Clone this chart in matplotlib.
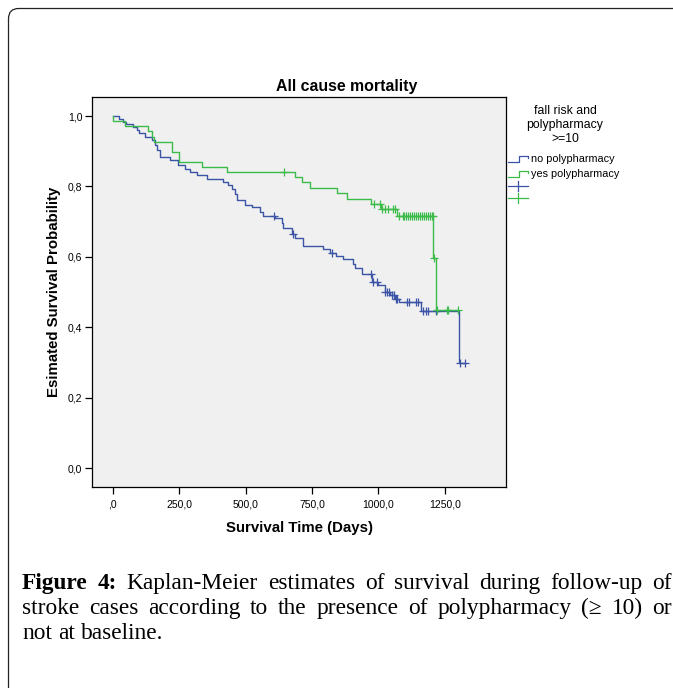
import numpy as np
import matplotlib
matplotlib.use('Agg')
import matplotlib.pyplot as plt
from matplotlib.patches import FancyBboxPatch
from matplotlib.lines import Line2D

plt.rcParams['font.family'] = ['Liberation Sans', 'DejaVu Sans']

W, H = 673, 688

# Kaplan-Meier steps: day of event, survival after it
no_times = [0, 25, 38, 50, 75, 90, 100, 121, 146, 159, 168, 178, 216, 247, 272,
            291, 316, 353, 416, 435, 448, 460, 466, 498, 523, 554, 567, 610, 636,
            642, 673, 686, 717, 792, 818, 842, 865, 903, 912, 937, 974, 999, 1024,
            1045, 1062, 1076, 1162, 1304]
no_surv = [1.0, 0.991, 0.984, 0.977, 0.970, 0.960, 0.951, 0.941, 0.932, 0.918,
           0.904, 0.883, 0.876, 0.861, 0.850, 0.842, 0.833, 0.821, 0.814, 0.804,
           0.792, 0.780, 0.763, 0.747, 0.741, 0.728, 0.716, 0.710, 0.695, 0.683,
           0.665, 0.653, 0.631, 0.622, 0.612, 0.603, 0.594, 0.580, 0.568, 0.552,
           0.530, 0.520, 0.500, 0.493, 0.482, 0.473, 0.447, 0.298]
no_end = 1325
no_censor = [608, 677, 826, 971, 980, 996, 1026, 1031, 1040, 1050, 1058, 1066,
             1071, 1108, 1116, 1143, 1150, 1169, 1179, 1188, 1216, 1307, 1325]

yes_times = [0, 2, 46, 132, 149, 157, 224, 250, 335, 431, 686, 711, 743, 845,
             880, 972, 1008, 1068, 1206, 1216]
yes_surv = [1.0, 0.986, 0.972, 0.957, 0.941, 0.927, 0.899, 0.870, 0.855, 0.841,
            0.826, 0.812, 0.797, 0.781, 0.765, 0.751, 0.735, 0.717, 0.596, 0.449]
yes_end = 1300
yes_censor = [644, 983, 1006, 1012, 1025, 1037, 1056, 1062, 1078, 1092, 1098,
              1105, 1112, 1120, 1128, 1135, 1142, 1150, 1158, 1165, 1172, 1180,
              1188, 1195, 1200, 1204, 1210, 1220, 1257, 1263, 1300]

x_ticks = [0, 250, 500, 750, 1000, 1250]
x_labels = [',0', '250,0', '500,0', '750,0', '1000,0', '1250,0']
y_ticks = [0.0, 0.2, 0.4, 0.6, 0.8, 1.0]
y_labels = ['0,0', '0,2', '0,4', '0,6', '0,8', '1,0']

blue = '#3b54a6'
green = '#3cbb4a'


def steps(times, surv, end):
    return np.append(times, end), np.append(surv, surv[-1])


def surv_at(times, surv, t):
    idx = np.searchsorted(times, t, side='right') - 1
    return np.asarray(surv)[idx]


def fx(px):
    return px / W


def fy(py):
    return 1 - py / H


fig = plt.figure(figsize=(W / 100, H / 100), dpi=100)

# outer rounded frame of the figure panel
fig.patches.append(FancyBboxPatch((fx(8.5), -0.2), 1.2, fy(8.5) + 0.2,
                                  boxstyle='round,pad=0,rounding_size=0.015',
                                  transform=fig.transFigure, fill=False,
                                  ec='#222222', lw=0.9))

ax = fig.add_axes([fx(92), fy(487), fx(506) - fx(92), fy(97) - fy(487)])
ax.set_facecolor('#f0f0f0')
for s in ax.spines.values():
    s.set_linewidth(0.9)

for times, surv, end, cens, col in [(no_times, no_surv, no_end, no_censor, blue),
                                    (yes_times, yes_surv, yes_end, yes_censor, green)]:
    x, y = steps(times, surv, end)
    ax.step(x, y, where='post', color=col, lw=1.0)
    ax.plot(cens, surv_at(times, surv, cens), ls='none', marker='+',
            ms=5.5, mew=0.9, color=col)

ax.set_xlim(-78, 1480)
ax.set_ylim(-0.053, 1.054)
ax.set_xticks(x_ticks)
ax.set_xticklabels(x_labels)
ax.set_yticks(y_ticks)
ax.set_yticklabels(y_labels)
ax.tick_params(direction='out', length=5, width=0.9, labelsize=7.5, pad=2)
ax.tick_params(axis='x', pad=4)
ax.set_xlabel('Survival Time (Days)', fontsize=10.8, fontweight='bold', labelpad=8)
ax.set_ylabel('Esimated Survival Probability', fontsize=10.8, fontweight='bold',
              labelpad=5)

fig.text(fx(347), fy(86), 'All cause mortality', ha='center', va='center',
         fontsize=11.4, fontweight='bold')

# legend drawn by hand, SPSS style
for i, line in enumerate(['fall risk and', 'polypharmacy', '>=10']):
    fig.text(fx(565), fy(111 + 14 * i), line, ha='center', va='center', fontsize=8.8)

for col, yc, lab in [(blue, 159, 'no polypharmacy'), (green, 174, 'yes polypharmacy')]:
    fig.add_artist(Line2D([fx(508), fx(519), fx(519), fx(528), fx(528)],
                          [fy(yc + 3), fy(yc + 3), fy(yc - 3.5), fy(yc - 3.5), fy(yc - 1)],
                          color=col, lw=0.9, transform=fig.transFigure))
    fig.text(fx(531), fy(yc), lab, ha='left', va='center', fontsize=7.8)

for col, yc in [(blue, 186), (green, 198)]:
    fig.add_artist(Line2D([fx(508), fx(528)], [fy(yc), fy(yc)], color=col, lw=0.9,
                          transform=fig.transFigure))
    fig.add_artist(Line2D([fx(518), fx(518)], [fy(yc - 5), fy(yc + 5)], color=col,
                          lw=0.9, transform=fig.transFigure))

# caption, justified word by word
renderer = fig.canvas.get_renderer()
caption = [
    ('Figure 4: Kaplan-Meier estimates of survival during follow-up of', False),
    ('stroke cases according to the presence of polypharmacy (\u2265 10) or', False),
    ('not at baseline.', True),
]
cap_font = dict(family=['Liberation Serif', 'DejaVu Serif'], fontsize=16.8)
x_left, x_right = 22, 672
for li, (line, last) in enumerate(caption):
    words = line.split(' ')
    texts = []
    for wi, wd in enumerate(words):
        bold = li == 0 and wi < 2
        texts.append(fig.text(0, fy(589 + 25 * li), wd, va='baseline', ha='left',
                              fontweight='bold' if bold else 'normal', **cap_font))
    widths = [t.get_window_extent(renderer).width for t in texts]
    if last:
        ab = fig.text(0, 0, 'a b', **cap_font)
        a_b = fig.text(0, 0, 'ab', **cap_font)
        gap = ab.get_window_extent(renderer).width - a_b.get_window_extent(renderer).width
        ab.remove()
        a_b.remove()
    else:
        gap = (x_right - x_left - sum(widths)) / (len(words) - 1)
    xpos = x_left
    for t, w in zip(texts, widths):
        t.set_x(fx(xpos))
        xpos += w + gap

fig.savefig('out.png', dpi=100)
